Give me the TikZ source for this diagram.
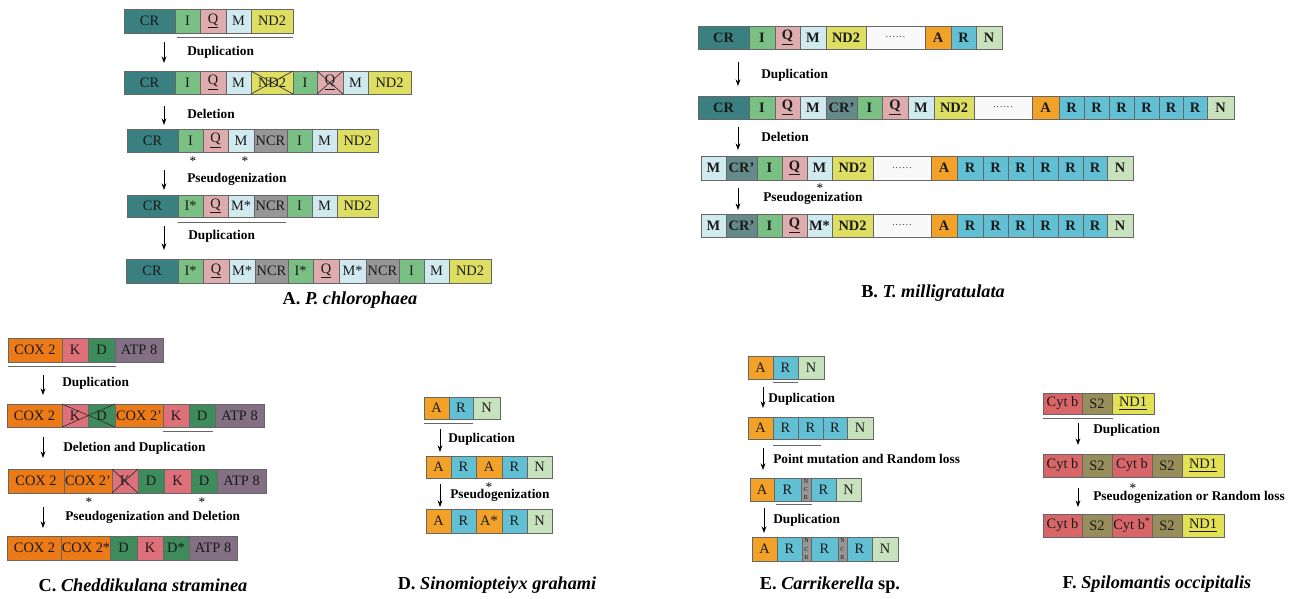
\documentclass[tikz,border=0pt]{standalone}
\usepackage{fontspec}
\setmainfont{Liberation Serif}
\usetikzlibrary{arrows.meta}

% gene colours
\definecolor{cCR}{RGB}{58,128,128}
\definecolor{cCRp}{RGB}{100,138,138}
\definecolor{cI}{RGB}{122,192,132}
\definecolor{cQ}{RGB}{222,172,172}
\definecolor{cM}{RGB}{208,234,240}
\definecolor{cND}{RGB}{222,222,98}
\definecolor{cNCR}{RGB}{150,150,150}
\definecolor{cDot}{RGB}{249,249,249}
\definecolor{cA}{RGB}{242,162,40}
\definecolor{cR}{RGB}{98,192,212}
\definecolor{cN}{RGB}{200,226,190}
\definecolor{cCOX}{RGB}{236,122,22}
\definecolor{cK}{RGB}{222,112,122}
\definecolor{cD}{RGB}{62,140,92}
\definecolor{cATP}{RGB}{132,112,132}
\definecolor{cCyt}{RGB}{216,102,104}
\definecolor{cS}{RGB}{152,142,92}
\definecolor{cNDa}{RGB}{226,226,84}

\tikzset{
  gene/.style={draw=black!60, line width=0.5pt, inner sep=0pt, outer sep=0pt,
    font=\fontsize{10.8}{12}\selectfont, text=black!90},
  boldgene/.style={font=\fontsize{10.8}{12}\selectfont\bfseries},
  proc/.style={anchor=west, inner sep=0pt, font=\fontsize{10}{12}\selectfont\bfseries},
  ttl/.style={inner sep=0pt, font=\fontsize{13.7}{15}\selectfont\bfseries},
  star/.style={inner sep=0pt, font=\fontsize{10}{10}\selectfont},
  arr/.style={line width=0.6pt, -{Stealth[length=5pt,width=3.6pt]}},
  bar/.style={line width=0.6pt, draw=black!60},
  xout/.style={line width=0.5pt, draw=black!80}
}

% one row of gene boxes: [style] prefix, top y, bottom y, list x1/x2/colour/label
\newcommand\generow[5][]{%
  \foreach \xa/\xb/\cl/\tx [count=\i] in {#5}{%
    \node[gene,#1,fill=\cl,minimum width={(\xb-\xa)*0.75pt},
      minimum height={(#4-#3)*0.75pt}] (#2-\i) at ({(\xa+\xb)/2},{(#3+#4)/2}) {\tx};
  }}
% vertical step arrow between two named coordinates
\newcommand\steparrow[4]{%
  \coordinate (#1s) at (#2,#3);
  \coordinate (#1e) at (#2,#4);
  \draw[arr] (#1s) -- (#1e);}
% asterisk whose glyph centre sits at the given point
\newcommand\pseudomark[3]{\node[star] (#1) at (#2,#3+3.2) {*};}
\newcommand\tinyncr{\fontsize{4.6}{4.7}\selectfont\shortstack{N\\C\\R}}
\newcommand\uQ{\underline{Q}}
\newcommand\gap{{\mdseries\fontsize{7}{8}\selectfont .\kern0.8pt.\kern0.8pt.\kern0.8pt.\kern0.8pt.\kern0.8pt.}}

\begin{document}
\begin{tikzpicture}[x=0.75pt,y=-0.75pt]
\useasboundingbox (0,0) rectangle (1303,599);

% ---------------- A. P. chlorophaea ----------------
\generow{a1}{9}{33}{124/175/cCR/CR,175/200/cI/I,200/226/cQ/\uQ,226/251/cM/M,251/293/cND/ND2}
\draw[bar] (177,37.5) -- (293,37.5);
\steparrow{pa1}{164}{42}{63}
\node[proc] (la1) at (187,52) {Duplication};

\generow{a2}{71}{94}{124/175/cCR/CR,175/200/cI/I,200/226/cQ/\uQ,226/251/cM/M,251/293/cND/ND2,293/317/cI/I,317/343/cQ/\uQ,343/368/cM/M,368/411/cND/ND2}
\draw[xout] (a2-5.north west) -- (a2-5.south east) (a2-5.south west) -- (a2-5.north east);
\draw[xout] (a2-7.north west) -- (a2-7.south east) (a2-7.south west) -- (a2-7.north east);
\steparrow{pa2}{164}{106}{125}
\node[proc] (la2) at (187,114) {Deletion};

\generow{a3}{129}{152}{127/178/cCR/CR,178/203/cI/I,203/228/cQ/\uQ,228/254/cM/M,254/287/cNCR/NCR,287/312/cI/I,312/337/cM/M,337/378/cND/ND2}
\pseudomark{sa1}{193}{158}
\pseudomark{sa2}{245}{158}
\steparrow{pa3}{164}{170}{190}
\node[proc] (la3) at (187,179) {Pseudogenization};

\generow{a4}{195}{217}{127/178/cCR/CR,178/203/cI/I*,203/228/cQ/\uQ,228/254/cM/M*,254/287/cNCR/NCR,287/312/cI/I,312/337/cM/M,337/378/cND/ND2}
\draw[bar] (178,222) -- (286,222);
\steparrow{pa4}{164}{226}{250}
\node[proc] (la4) at (188,236) {Duplication};

\generow{a5}{259}{283}{126/178/cCR/CR,178/203/cI/I*,203/229/cQ/\uQ,229/255/cM/M*,255/288/cNCR/NCR,288/313/cI/I*,313/339/cQ/\uQ,339/366/cM/M*,366/399/cNCR/NCR,399/424/cI/I,424/449/cM/M,449/491/cND/ND2}
\node[ttl] (ta) at (350,300) {A. \textit{P. chlorophaea}};

% ---------------- B. T. milligratulata ----------------
\generow[boldgene]{b1}{26}{49}{698/749/cCR/CR,749/775/cI/I,775/800/cQ/\uQ,800/826/cM/M,826/866/cND/ND2,866/925/cDot/\gap,925/951/cA/A,951/976/cR/R,976/1002/cN/N}
\steparrow{pb1}{738}{62}{86}
\node[proc] (lb1) at (761,75) {Duplication};

\generow[boldgene]{b2}{96}{119}{698/749/cCR/CR,749/775/cI/I,775/800/cQ/\uQ,800/826/cM/M,826/857/cCRp/CR’,857/882/cI/I,882/908/cQ/\uQ,908/934/cM/M,934/974/cND/ND2,974/1032/cDot/\gap,1032/1059/cA/A,1059/1084/cR/R,1084/1109/cR/R,1109/1134/cR/R,1134/1159/cR/R,1159/1183/cR/R,1183/1207/cR/R,1207/1234/cN/N}
\steparrow{pb2}{738}{127}{150}
\node[proc] (lb2) at (761,137) {Deletion};

\generow[boldgene]{b3}{156}{180}{701/726/cM/M,726/757/cCRp/CR’,757/782/cI/I,782/807/cQ/\uQ,807/832/cM/M,832/873/cND/ND2,873/931/cDot/\gap,931/957/cA/A,957/983/cR/R,983/1008/cR/R,1008/1033/cR/R,1033/1058/cR/R,1058/1083/cR/R,1083/1107/cR/R,1107/1133/cN/N}
\pseudomark{sb1}{820}{184.5}
\steparrow{pb3}{738}{188}{210}
\node[proc] (lb3) at (763,198) {Pseudogenization};

\generow[boldgene]{b4}{214}{237}{701/726/cM/M,726/757/cCRp/CR’,757/782/cI/I,782/807/cQ/\uQ,807/832/cM/M*,832/873/cND/ND2,873/931/cDot/\gap,931/957/cA/A,957/983/cR/R,983/1008/cR/R,1008/1033/cR/R,1033/1058/cR/R,1058/1083/cR/R,1083/1107/cR/R,1107/1133/cN/N}
\node[ttl] (tb) at (933,293) {B. \textit{T. milligratulata}};

% ---------------- C. Cheddikulana straminea ----------------
\generow{c1}{338}{362}{8/62/cCOX/COX 2,62/88/cK/K,88/115/cD/D,115/163/cATP/ATP 8}
\draw[bar] (8,366) -- (116,366);
\steparrow{pc1}{43}{375}{395}
\node[proc] (lc1) at (62,383) {Duplication};

\generow{c2}{404}{427}{7/62/cCOX/COX 2,62/88/cK/K,88/115/cD/D,115/163/cCOX/COX 2’,163/189/cK/K,189/215/cD/D,215/264/cATP/ATP 8}
\draw[xout] (c2-2.north west) -- (c2-3.south east) (c2-2.south west) -- (c2-3.north east);
\draw[bar] (163,431) -- (213,431);
\steparrow{pc2}{43}{437}{458}
\node[proc] (lc2) at (63,448) {Deletion and Duplication};

\generow{c3}{469}{493}{8/64/cCOX/COX 2,64/112/cCOX/COX 2’,112/138/cK/K,138/164/cD/D,164/191/cK/K,191/217/cD/D,217/266/cATP/ATP 8}
\draw[xout] (c3-3.north west) -- (c3-3.south east) (c3-3.south west) -- (c3-3.north east);
\pseudomark{sc1}{89}{499}
\pseudomark{sc2}{202}{499}
\steparrow{pc3}{43}{507}{528}
\node[proc] (lc3) at (65,517) {Pseudogenization and Deletion};

\generow{c4}{536}{560}{7/62/cCOX/COX 2,62/110/cCOX/COX 2*,110/137/cD/D,137/163/cK/K,163/189/cD/D*,189/237/cATP/ATP 8}
\node[ttl] (tc) at (143,585) {C. \textit{Cheddikulana straminea}};

% ---------------- D. Sinomiopteiyx grahami ----------------
\generow{d1}{397}{419}{424/449/cA/A,449/473/cR/R,473/500/cN/N}
\draw[bar] (424,423) -- (473,423);
\steparrow{pd1}{440}{429}{452}
\node[proc] (ld1) at (448,439) {Duplication};

\generow{d2}{456}{478}{426/451/cA/A,451/476/cR/R,476/502/cA/A,502/527/cR/R,527/552/cN/N}
\pseudomark{sd1}{489}{483.5}
\steparrow{pd2}{440}{484}{507}
\node[proc] (ld2) at (450,495.5) {Pseudogenization};

\generow{d3}{509}{533}{426/451/cA/A,451/476/cR/R,476/502/cA/A*,502/527/cR/R,527/552/cN/N}
\node[ttl] (td) at (497,585) {D. \textit{Sinomiopteiyx grahami}};

% ---------------- E. Carrikerella sp. ----------------
\generow{e1}{356}{379}{748/773/cA/A,773/798/cR/R,798/824/cN/N}
\draw[bar] (773,382) -- (798,382);
\steparrow{pe1}{763}{387}{408}
\node[proc] (le1) at (768,399) {Duplication};

\generow{e2}{417}{439}{748/773/cA/A,773/798/cR/R,798/823/cR/R,823/847/cR/R,847/873/cN/N}
\draw[bar] (773,445) -- (821,445);
\steparrow{pe2}{763}{448}{470}
\node[proc] (le2) at (773,459) {Point mutation and Random loss};

\generow{e3}{478}{501}{750/774/cA/A,774/801/cR/R,801/811/cNCR/\tinyncr,811/836/cR/R,836/861/cN/N}
\draw[bar] (776,504) -- (812,504);
\steparrow{pe3}{764}{508}{533}
\node[proc] (le3) at (773,520) {Duplication};

\generow{e4}{537}{561}{752/777/cA/A,777/802/cR/R,802/811/cNCR/\tinyncr,811/838/cR/R,838/847/cNCR/\tinyncr,847/872/cR/R,872/898/cN/N}
\node[ttl] (te) at (830,585) {E. \textit{Carrikerella} sp.};

% ---------------- F. Spilomantis occipitalis ----------------
\generow{f1}{393}{414}{1043/1082/cCyt/Cyt b,1082/1112/cS/S2,1112/1154/cNDa/\underline{ND1}}
\draw[bar] (1043,418) -- (1113,418);
\steparrow{pf1}{1078}{423}{445}
\node[proc] (lf1) at (1093,430) {Duplication};

\generow{f2}{454}{477}{1043/1082/cCyt/Cyt b,1082/1112/cS/S2,1112/1152/cCyt/Cyt b,1152/1182/cS/S2,1182/1224/cNDa/\underline{ND1}}
\pseudomark{sf1}{1133}{485}
\steparrow{pf2}{1078}{488}{507}
\node[proc] (lf2) at (1093,497) {Pseudogenization or Random loss};

\generow{f3}{514}{537}{1043/1082/cCyt/Cyt b,1082/1112/cS/S2,1112/1152/cCyt/Cyt b\textsuperscript{*},1152/1182/cS/S2,1182/1224/cNDa/\underline{ND1}}
\node[ttl] (tf) at (1157,584) {F. \textit{Spilomantis occipitalis}};
\end{tikzpicture}
\end{document}
